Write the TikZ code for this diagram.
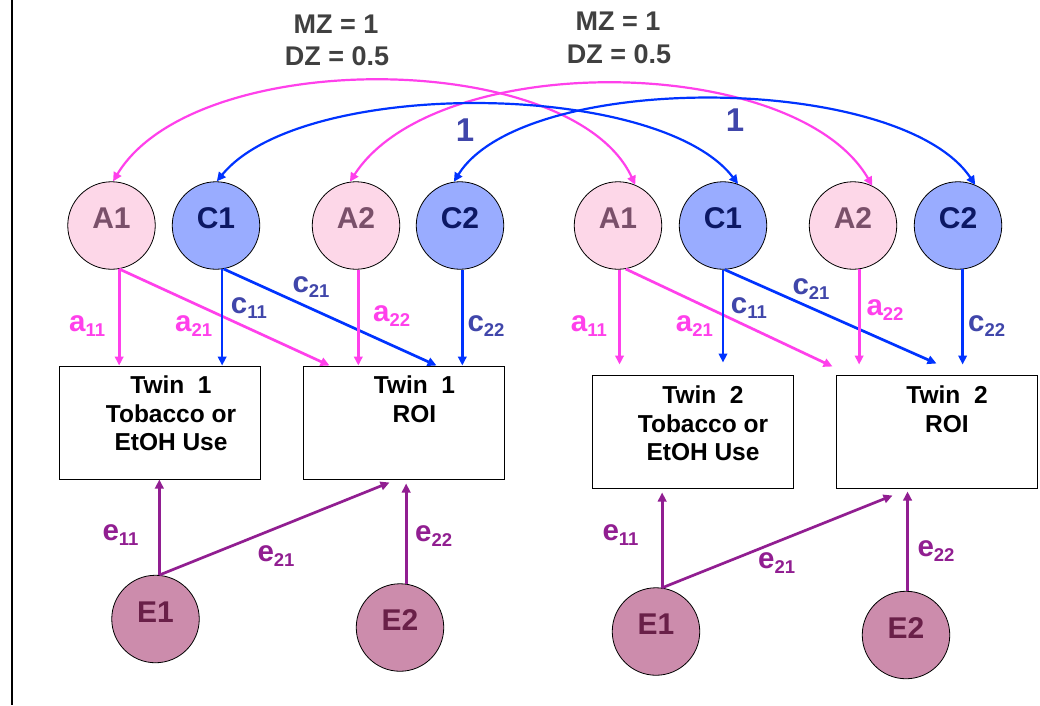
\documentclass[tikz,border=0pt]{standalone}
\usepackage{fontspec}
\setmainfont{Liberation Sans}
\usetikzlibrary{arrows.meta}

\definecolor{pinkln}{RGB}{255,64,235}
\definecolor{blueln}{RGB}{0,51,255}
\definecolor{purpln}{RGB}{145,30,145}
\definecolor{afill}{RGB}{253,215,232}
\definecolor{cfill}{RGB}{153,172,255}
\definecolor{efill}{RGB}{204,140,172}
\definecolor{atext}{RGB}{122,80,106}
\definecolor{ctext}{RGB}{12,24,100}
\definecolor{etext}{RGB}{105,32,72}
\definecolor{clab}{RGB}{64,70,170}
\definecolor{toplab}{RGB}{64,64,64}

% path coefficient label: letter with a lowered index
\newcommand{\pathlab}[2]{{\fontsize{29.5}{29.5}\selectfont #1}\raisebox{-5pt}{\fontsize{18.5}{18.5}\selectfont #2}}

\tikzset{
  latent/.style={circle, draw=black, line width=0.8pt, minimum size=87.5pt, inner sep=0pt,
    font=\fontsize{30}{30}\selectfont\bfseries, text height=21.5pt, text depth=15.5pt},
  afac/.style={latent, fill=afill, text=atext},
  cfac/.style={latent, fill=cfill, text=ctext},
  efac/.style={latent, fill=efill, text=etext},
  measbox/.style={draw=black, line width=1pt, minimum width=201pt, minimum height=113pt, inner sep=0pt},
  boxtext/.style={anchor=north, inner sep=0pt, align=center, font=\fontsize{24.5}{28.5}\selectfont\bfseries},
  coef/.style={anchor=base west, inner sep=0pt, font=\bfseries},
  toptext/.style={anchor=base, inner sep=0pt, text=toplab, font=\fontsize{27}{27}\selectfont\bfseries},
  onetext/.style={anchor=base, inner sep=0pt, text=clab, font=\fontsize{33}{33}\selectfont\bfseries},
  tip/.tip={Triangle[length=9pt,width=8.5pt]},
  apath/.style={draw=pinkln, line width=2.7pt, -tip},
  cpath/.style={draw=blueln, line width=2.7pt, -tip},
  epath/.style={draw=purpln, line width=2.7pt, -tip},
  acov/.style={draw=pinkln, line width=2.2pt, tip-tip},
  ccov/.style={draw=blueln, line width=2.2pt, tip-tip},
}

\begin{document}
\begin{tikzpicture}[x=1pt, y=-1pt]
\useasboundingbox (0,0) rectangle (1040,705);
\fill[white] (0,0) rectangle (1040,705);
\draw[black, line width=1.5pt] (12,0) -- (12,705);

% latent factors, twin 1
\node[afac] (lA1) at (111.5,225.5) {A1};
\node[cfac] (lC1) at (216,225.5) {C1};
\node[afac] (lA2) at (356,225.5) {A2};
\node[cfac] (lC2) at (460,225.5) {C2};
% latent factors, twin 2
\node[afac] (rA1) at (618,225.5) {A1};
\node[cfac] (rC1) at (723,225.5) {C1};
\node[afac] (rA2) at (853,225.5) {A2};
\node[cfac] (rC2) at (958,225.5) {C2};

% unique environment factors
\node[efac] (lE1) at (155.5,619) {E1};
\node[efac] (lE2) at (400,627.5) {E2};
\node[efac] (rE1) at (656,631.5) {E1};
\node[efac] (rE2) at (906,635) {E2};

% observed measures
\node[measbox] (lB1) at (159.5,422.5) {};
\node[measbox] (lB2) at (403.5,422.5) {};
\node[measbox] (rB1) at (692.5,431.5) {};
\node[measbox] (rB2) at (936.5,431.5) {};
\node[boxtext] (lB1t) at (171,376) {Twin~ 1\\Tobacco or\\EtOH Use};
\node[boxtext] (lB2t) at (414.5,376) {Twin~ 1\\ROI};
\node[boxtext] (rB1t) at (703,386) {Twin~ 2\\Tobacco or\\EtOH Use};
\node[boxtext] (rB2t) at (947,386) {Twin~ 2\\ROI};

% twin correlations
\node[toptext] (mzL) at (336,33.3) {MZ = 1};
\node[toptext] (dzL) at (337,65) {DZ = 0.5};
\node[toptext] (mzR) at (618,30.7) {MZ = 1};
\node[toptext] (dzR) at (619,63.3) {DZ = 0.5};
\node[onetext] (oneL) at (465,141.7) {1};
\node[onetext] (oneR) at (735,131.7) {1};

% cross-twin covariances
\draw[acov] (lA1.88) .. controls +(82,-136) and +(-63,-136) .. (rA1.67);
\draw[acov] (lA2.98) .. controls +(86,-133) and +(-77,-133) .. (rA2.64);
\draw[ccov] (lC1.89) .. controls +(85,-104) and +(-80,-104) .. (rC1.70);
\draw[ccov] (lC2.98) .. controls +(70,-112) and +(-75,-112) .. (rC2.67);

% paths, twin 1
\draw[apath] (lA1.-80) -- (lA1.-80 |- lB1.north);
\draw[apath] (lA1.-80) -- ([xshift=27pt]lB2.north west);
\draw[cpath] (lC1.-82) -- (lC1.-82 |- lB1.north);
\draw[cpath] (lC1.-80) -- ([xshift=134pt]lB2.north west);
\draw[apath] (lA2.-87) -- (lA2.-87 |- lB2.north);
\draw[cpath] (lC2.-87) -- (lC2.-87 |- lB2.north);
\draw[epath] (lE1.85) -- (lE1.85 |- lB1.south);
\draw[epath] (lE1.85) -- ([xshift=87pt,yshift=-3pt]lB2.south west);
\draw[epath] (lE2.82) -- ([yshift=-4pt]lE2.82 |- lB2.south);

% paths, twin 2
\draw[apath] (rA1.-88) -- ([yshift=10pt]rA1.-88 |- rB1.north);
\draw[apath] (rA1.-80) -- ([xshift=-3pt,yshift=8pt]rB2.north west);
\draw[cpath] (rC1.-90) -- ([yshift=12pt]rC1.-90 |- rB1.north);
\draw[cpath] (rC1.-88) -- ([xshift=101pt,yshift=11pt]rB2.north west);
\draw[apath] (rA2.-82) -- ([yshift=10pt]rA2.-82 |- rB2.north);
\draw[cpath] (rC2.-84) -- ([yshift=10pt]rC2.-84 |- rB2.north);
\draw[epath] (rE1.82) -- ([yshift=-4pt]rE1.82 |- rB1.south);
\draw[epath] (rE1.82) -- ([xshift=57pt,yshift=-7pt]rB2.south west);
\draw[epath] (rE2.88) -- ([yshift=-3pt]rE2.88 |- rB2.south);

% coefficient labels, twin 1
\node[coef, text=pinkln] (la11) at (69,331.7) {\pathlab{a}{11}};
\node[coef, text=pinkln] (la21) at (175,331.7) {\pathlab{a}{21}};
\node[coef, text=clab] (lc11) at (230.7,313.3) {\pathlab{c}{11}};
\node[coef, text=clab] (lc21) at (292.3,292.3) {\pathlab{c}{21}};
\node[coef, text=pinkln] (la22) at (373,321.5) {\pathlab{a}{22}};
\node[coef, text=clab] (lc22) at (467.3,331.7) {\pathlab{c}{22}};
\node[coef, text=purpln] (le11) at (102.3,540) {\pathlab{e}{11}};
\node[coef, text=purpln] (le21) at (257.3,561.7) {\pathlab{e}{21}};
\node[coef, text=purpln] (le22) at (415,541.7) {\pathlab{e}{22}};

% coefficient labels, twin 2
\node[coef, text=pinkln] (ra11) at (570.7,331.7) {\pathlab{a}{11}};
\node[coef, text=pinkln] (ra21) at (675.7,331.7) {\pathlab{a}{21}};
\node[coef, text=clab] (rc11) at (730.7,313.3) {\pathlab{c}{11}};
\node[coef, text=clab] (rc21) at (792.3,294.3) {\pathlab{c}{21}};
\node[coef, text=pinkln] (ra22) at (866.3,315) {\pathlab{a}{22}};
\node[coef, text=clab] (rc22) at (968,331.7) {\pathlab{c}{22}};
\node[coef, text=purpln] (re11) at (602.3,540) {\pathlab{e}{11}};
\node[coef, text=purpln] (re21) at (758,568.3) {\pathlab{e}{21}};
\node[coef, text=purpln] (re22) at (917.3,556.7) {\pathlab{e}{22}};
\end{tikzpicture}
\end{document}
